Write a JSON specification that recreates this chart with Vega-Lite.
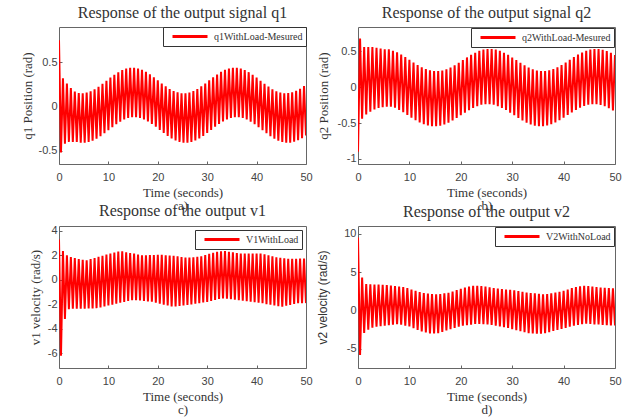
{
"$schema": "https://vega.github.io/schema/vega-lite/v6.json",
"padding": {"left": 20, "top": 4, "right": 0, "bottom": 0},
"background": "white",
"datasets": {"sig": [
{"t":0,"q1":0.75,"q2":-0.9,"v1":3.3,"v2":9.5},
{"t":0.4,"q1":-0.52,"q2":0.68,"v1":-6.2,"v2":-5.8},
{"t":0.8,"q1":0.32,"q2":-0.44,"v1":2.35,"v2":4.3},
{"t":1.2,"q1":-0.42,"q2":0.56,"v1":-3.2,"v2":-2.95},
{"t":1.6,"q1":0.26,"q2":-0.38,"v1":2.0,"v2":3.43},
{"t":2.0,"q1":-0.40,"q2":0.56,"v1":-2.4,"v2":-2.5},
{"t":2.4,"q1":0.21,"q2":-0.34,"v1":1.86,"v2":3.41},
{"t":2.8,"q1":-0.40,"q2":0.56,"v1":-2.35,"v2":-2.26},
{"t":3.2,"q1":0.17,"q2":-0.31,"v1":1.78,"v2":3.38},
{"t":3.6,"q1":-0.40,"q2":0.55,"v1":-2.35,"v2":-2.12},
{"t":4.0,"q1":0.152,"q2":-0.29,"v1":1.7,"v2":3.36},
{"t":4.4,"q1":-0.408,"q2":0.54,"v1":-2.35,"v2":-2.06},
{"t":4.8,"q1":0.151,"q2":-0.28,"v1":1.64,"v2":3.33},
{"t":5.2,"q1":-0.409,"q2":0.53,"v1":-2.35,"v2":-1.98},
{"t":5.6,"q1":0.158,"q2":-0.27,"v1":1.6,"v2":3.31},
{"t":6.0,"q1":-0.402,"q2":0.53,"v1":-2.34,"v2":-1.92},
{"t":6.4,"q1":0.173,"q2":-0.27,"v1":1.7,"v2":3.25},
{"t":6.8,"q1":-0.387,"q2":0.51,"v1":-2.33,"v2":-1.86},
{"t":7.2,"q1":0.196,"q2":-0.284,"v1":1.79,"v2":3.18},
{"t":7.6,"q1":-0.364,"q2":0.486,"v1":-2.31,"v2":-1.8},
{"t":8.0,"q1":0.224,"q2":-0.315,"v1":1.88,"v2":3.1},
{"t":8.4,"q1":-0.336,"q2":0.455,"v1":-2.26,"v2":-1.86},
{"t":8.8,"q1":0.257,"q2":-0.349,"v1":1.97,"v2":3.03},
{"t":9.2,"q1":-0.303,"q2":0.421,"v1":-2.18,"v2":-1.98},
{"t":9.6,"q1":0.292,"q2":-0.386,"v1":2.06,"v2":2.9},
{"t":10.0,"q1":-0.268,"q2":0.384,"v1":-2.1,"v2":-2.1},
{"t":10.4,"q1":0.327,"q2":-0.424,"v1":2.15,"v2":2.72},
{"t":10.8,"q1":-0.233,"q2":0.346,"v1":-2.02,"v2":-2.32},
{"t":11.2,"q1":0.36,"q2":-0.459,"v1":2.24,"v2":2.55},
{"t":11.6,"q1":-0.2,"q2":0.311,"v1":-1.94,"v2":-2.54},
{"t":12.0,"q1":0.389,"q2":-0.49,"v1":2.32,"v2":2.38},
{"t":12.4,"q1":-0.171,"q2":0.28,"v1":-1.87,"v2":-2.74},
{"t":12.8,"q1":0.413,"q2":-0.516,"v1":2.33,"v2":2.27},
{"t":13.2,"q1":-0.147,"q2":0.254,"v1":-1.8,"v2":-2.88},
{"t":13.6,"q1":0.43,"q2":-0.534,"v1":2.26,"v2":2.19},
{"t":14.0,"q1":-0.13,"q2":0.236,"v1":-1.73,"v2":-3.0},
{"t":14.4,"q1":0.439,"q2":-0.544,"v1":2.19,"v2":2.12},
{"t":14.8,"q1":-0.121,"q2":0.226,"v1":-1.67,"v2":-3.0},
{"t":15.2,"q1":0.439,"q2":-0.544,"v1":2.14,"v2":2.1},
{"t":15.6,"q1":-0.121,"q2":0.226,"v1":-1.66,"v2":-2.98},
{"t":16.0,"q1":0.431,"q2":-0.536,"v1":2.07,"v2":2.15},
{"t":16.4,"q1":-0.129,"q2":0.234,"v1":-1.68,"v2":-2.8},
{"t":16.8,"q1":0.415,"q2":-0.519,"v1":2.01,"v2":2.23},
{"t":17.2,"q1":-0.145,"q2":0.251,"v1":-1.72,"v2":-2.61},
{"t":17.6,"q1":0.392,"q2":-0.494,"v1":2.01,"v2":2.3},
{"t":18.0,"q1":-0.168,"q2":0.276,"v1":-1.76,"v2":-2.45},
{"t":18.4,"q1":0.364,"q2":-0.464,"v1":2.02,"v2":2.47},
{"t":18.8,"q1":-0.196,"q2":0.306,"v1":-1.79,"v2":-2.29},
{"t":19.2,"q1":0.331,"q2":-0.429,"v1":2.03,"v2":2.65},
{"t":19.6,"q1":-0.229,"q2":0.341,"v1":-1.86,"v2":-2.13},
{"t":20.0,"q1":0.296,"q2":-0.391,"v1":2.04,"v2":2.83},
{"t":20.4,"q1":-0.264,"q2":0.379,"v1":-1.94,"v2":-2.0},
{"t":20.8,"q1":0.261,"q2":-0.354,"v1":2.04,"v2":2.98},
{"t":21.2,"q1":-0.299,"q2":0.416,"v1":-2.02,"v2":-1.93},
{"t":21.6,"q1":0.228,"q2":-0.319,"v1":2.01,"v2":3.12},
{"t":22.0,"q1":-0.332,"q2":0.451,"v1":-2.1,"v2":-1.85},
{"t":22.4,"q1":0.199,"q2":-0.288,"v1":1.99,"v2":3.22},
{"t":22.8,"q1":-0.361,"q2":0.482,"v1":-2.18,"v2":-1.77},
{"t":23.2,"q1":0.176,"q2":-0.263,"v1":1.96,"v2":3.21},
{"t":23.6,"q1":-0.384,"q2":0.507,"v1":-2.17,"v2":-1.76},
{"t":24.0,"q1":0.16,"q2":-0.245,"v1":1.93,"v2":3.18},
{"t":24.4,"q1":-0.4,"q2":0.525,"v1":-2.14,"v2":-1.78},
{"t":24.8,"q1":0.151,"q2":-0.236,"v1":1.87,"v2":3.1},
{"t":25.2,"q1":-0.409,"q2":0.534,"v1":-2.1,"v2":-1.82},
{"t":25.6,"q1":0.151,"q2":-0.236,"v1":1.82,"v2":3.0},
{"t":26.0,"q1":-0.409,"q2":0.534,"v1":-2.05,"v2":-1.9},
{"t":26.4,"q1":0.159,"q2":-0.245,"v1":1.82,"v2":2.9},
{"t":26.8,"q1":-0.401,"q2":0.525,"v1":-2.0,"v2":-1.98},
{"t":27.2,"q1":0.176,"q2":-0.263,"v1":1.85,"v2":2.84},
{"t":27.6,"q1":-0.384,"q2":0.507,"v1":-1.95,"v2":-2.08},
{"t":28.0,"q1":0.199,"q2":-0.288,"v1":1.88,"v2":2.79},
{"t":28.4,"q1":-0.361,"q2":0.482,"v1":-1.9,"v2":-2.18},
{"t":28.8,"q1":0.228,"q2":-0.318,"v1":1.93,"v2":2.73},
{"t":29.2,"q1":-0.332,"q2":0.452,"v1":-1.85,"v2":-2.29},
{"t":29.6,"q1":0.261,"q2":-0.354,"v1":2.03,"v2":2.68},
{"t":30.0,"q1":-0.299,"q2":0.416,"v1":-1.8,"v2":-2.43},
{"t":30.4,"q1":0.296,"q2":-0.391,"v1":2.12,"v2":2.61},
{"t":30.8,"q1":-0.264,"q2":0.379,"v1":-1.72,"v2":-2.57},
{"t":31.2,"q1":0.331,"q2":-0.428,"v1":2.21,"v2":2.52},
{"t":31.6,"q1":-0.229,"q2":0.342,"v1":-1.64,"v2":-2.71},
{"t":32.0,"q1":0.363,"q2":-0.463,"v1":2.3,"v2":2.43},
{"t":32.4,"q1":-0.197,"q2":0.307,"v1":-1.56,"v2":-2.85},
{"t":32.8,"q1":0.392,"q2":-0.494,"v1":2.33,"v2":2.34},
{"t":33.2,"q1":-0.168,"q2":0.276,"v1":-1.51,"v2":-2.96},
{"t":33.6,"q1":0.415,"q2":-0.518,"v1":2.35,"v2":2.27},
{"t":34.0,"q1":-0.145,"q2":0.252,"v1":-1.54,"v2":-3.0},
{"t":34.4,"q1":0.431,"q2":-0.536,"v1":2.3,"v2":2.22},
{"t":34.8,"q1":-0.129,"q2":0.234,"v1":-1.58,"v2":-3.03},
{"t":35.2,"q1":0.439,"q2":-0.544,"v1":2.25,"v2":2.16},
{"t":35.6,"q1":-0.121,"q2":0.226,"v1":-1.63,"v2":-3.03},
{"t":36.0,"q1":0.439,"q2":-0.544,"v1":2.2,"v2":2.11},
{"t":36.4,"q1":-0.121,"q2":0.226,"v1":-1.67,"v2":-2.97},
{"t":36.8,"q1":0.43,"q2":-0.534,"v1":2.16,"v2":2.14},
{"t":37.2,"q1":-0.13,"q2":0.236,"v1":-1.71,"v2":-2.83},
{"t":37.6,"q1":0.413,"q2":-0.516,"v1":2.15,"v2":2.24},
{"t":38.0,"q1":-0.147,"q2":0.254,"v1":-1.75,"v2":-2.68},
{"t":38.4,"q1":0.389,"q2":-0.491,"v1":2.15,"v2":2.34},
{"t":38.8,"q1":-0.171,"q2":0.279,"v1":-1.79,"v2":-2.54},
{"t":39.2,"q1":0.36,"q2":-0.46,"v1":2.15,"v2":2.44},
{"t":39.6,"q1":-0.2,"q2":0.31,"v1":-1.83,"v2":-2.4},
{"t":40.0,"q1":0.327,"q2":-0.424,"v1":2.15,"v2":2.56},
{"t":40.4,"q1":-0.233,"q2":0.346,"v1":-1.87,"v2":-2.27},
{"t":40.8,"q1":0.292,"q2":-0.387,"v1":2.15,"v2":2.73},
{"t":41.2,"q1":-0.268,"q2":0.383,"v1":-1.91,"v2":-2.13},
{"t":41.6,"q1":0.257,"q2":-0.35,"v1":2.09,"v2":2.9},
{"t":42.0,"q1":-0.303,"q2":0.42,"v1":-1.98,"v2":-2.0},
{"t":42.4,"q1":0.225,"q2":-0.315,"v1":2.01,"v2":3.06},
{"t":42.8,"q1":-0.335,"q2":0.455,"v1":-2.04,"v2":-1.88},
{"t":43.2,"q1":0.196,"q2":-0.285,"v1":1.93,"v2":3.14},
{"t":43.6,"q1":-0.364,"q2":0.485,"v1":-2.1,"v2":-1.8},
{"t":44.0,"q1":0.174,"q2":-0.26,"v1":1.85,"v2":3.21},
{"t":44.4,"q1":-0.386,"q2":0.51,"v1":-2.16,"v2":-1.74},
{"t":44.8,"q1":0.158,"q2":-0.244,"v1":1.81,"v2":3.17},
{"t":45.2,"q1":-0.402,"q2":0.526,"v1":-2.19,"v2":-1.77},
{"t":45.6,"q1":0.151,"q2":-0.236,"v1":1.77,"v2":3.1},
{"t":46.0,"q1":-0.409,"q2":0.534,"v1":-2.12,"v2":-1.81},
{"t":46.4,"q1":0.152,"q2":-0.237,"v1":1.72,"v2":3.03},
{"t":46.8,"q1":-0.408,"q2":0.533,"v1":-2.04,"v2":-1.84},
{"t":47.2,"q1":0.161,"q2":-0.247,"v1":1.72,"v2":2.98},
{"t":47.6,"q1":-0.399,"q2":0.523,"v1":-1.97,"v2":-1.88},
{"t":48.0,"q1":0.178,"q2":-0.265,"v1":1.73,"v2":2.94},
{"t":48.4,"q1":-0.382,"q2":0.505,"v1":-1.9,"v2":-1.91},
{"t":48.8,"q1":0.202,"q2":-0.291,"v1":1.74,"v2":2.9},
{"t":49.2,"q1":-0.358,"q2":0.479,"v1":-1.9,"v2":-1.94},
{"t":49.6,"q1":0.232,"q2":-0.322,"v1":1.75,"v2":2.87},
{"t":50.0,"q1":-0.328,"q2":0.448,"v1":-1.9,"v2":-1.96}
]},
"config": {
  "view": {"stroke": "#666", "strokeWidth": 1},
  "axis": {"grid": false, "domain": false, "labelFont": "Liberation Sans", "labelFontSize": 11, "labelColor": "#444",
           "labelOverlap": false, "labelFlush": false,
           "titleFont": "Liberation Serif", "titleFontSize": 13, "titleFontWeight": "normal", "titleColor": "#333",
           "tickColor": "#666", "tickSize": -3, "labelPadding": 5, "titlePadding": 4},
  "axisX": {"labelPadding": 10, "titlePadding": 4, "titleLineHeight": 13},
  "title": {"font": "Liberation Serif", "fontSize": 16, "fontWeight": "normal", "color": "#333", "offset": 6},
  "legend": {"orient": "top-right", "offset": 0, "title": null, "strokeColor": "#333", "fillColor": "white", "padding": 3,
             "labelFont": "Liberation Serif", "labelFontSize": 10, "labelColor": "#333",
             "symbolType": "M0,0H7", "symbolSize": 100, "symbolStrokeWidth": 3, "labelOffset": 35, "rowPadding": 0}
},
"resolve": {"scale": {"color": "independent"}, "legend": {"color": "independent"}},
"bounds": "flush",
"spacing": {"row": 62, "column": 52},
"columns": 2,
"concat": [
   {"title": "Response of the output signal q1",
    "width": 247, "height": 137,
    "data": {"name": "sig"},
    "mark": {"type": "line", "color": "#ff0000", "strokeWidth": 2, "clip": true},
    "encoding": {
     "x": {"field": "t", "type": "quantitative", "scale": {"domain": [0, 50], "nice": false}, "axis": {"values": [0, 10, 20, 30, 40, 50], "title": ["Time (seconds)", "a)"], "titleFont": "Liberation Serif", "titleFontWeight": "normal", "labelOverlap": false, "labelExpr": "'' + datum.value"}},
     "y": {"field": "q1", "type": "quantitative", "scale": {"domain": [-0.65, 0.9], "nice": false, "zero": false}, "axis": {"values": [-0.5, 0, 0.5], "title": "q1 Position (rad)", "titleFont": "Liberation Serif", "titleFontWeight": "normal", "titlePadding": 4, "labelOverlap": false, "labelExpr": "'' + datum.value"}},
     "color": {"datum": "q1WithLoad-Mesured", "scale": {"range": ["#ff0000"]}}
    }},
   {"title": "Response of the output signal q2",
    "width": 257, "height": 137,
    "data": {"name": "sig"},
    "mark": {"type": "line", "color": "#ff0000", "strokeWidth": 2, "clip": true},
    "encoding": {
     "x": {"field": "t", "type": "quantitative", "scale": {"domain": [0, 50], "nice": false}, "axis": {"values": [0, 10, 20, 30, 40, 50], "title": ["Time (seconds)", "b)"], "titleFont": "Liberation Serif", "titleFontWeight": "normal", "labelOverlap": false, "labelExpr": "'' + datum.value"}},
     "y": {"field": "q2", "type": "quantitative", "scale": {"domain": [-1.07, 0.84], "nice": false, "zero": false}, "axis": {"values": [-1, -0.5, 0, 0.5], "title": "q2 Position (rad)", "titleFont": "Liberation Serif", "titleFontWeight": "normal", "titlePadding": 7, "labelOverlap": false, "labelExpr": "'' + datum.value"}},
     "color": {"datum": "q2WithLoad-Mesured", "scale": {"range": ["#ff0000"]}, "legend": {"offset": 1}}
    }},
   {"title": "Response of the output v1",
    "width": 247, "height": 142,
    "data": {"name": "sig"},
    "mark": {"type": "line", "color": "#ff0000", "strokeWidth": 2, "clip": true},
    "encoding": {
     "x": {"field": "t", "type": "quantitative", "scale": {"domain": [0, 50], "nice": false}, "axis": {"values": [0, 10, 20, 30, 40, 50], "title": ["Time (seconds)", "c)"], "titleFont": "Liberation Serif", "titleFontWeight": "normal", "labelOverlap": false, "labelExpr": "'' + datum.value"}},
     "y": {"field": "v1", "type": "quantitative", "scale": {"domain": [-7.2, 4.4], "nice": false, "zero": false}, "axis": {"values": [-6, -4, -2, 0, 2, 4], "title": "v1 velocity (rad/s)", "titleFont": "Liberation Serif", "titleFontWeight": "normal", "titlePadding": 5, "labelOverlap": false, "labelExpr": "'' + datum.value"}},
     "color": {"datum": "V1WithLoad", "scale": {"range": ["#ff0000"]}, "legend": {"offset": 4}}
    }},
   {"title": "Response of the output v2",
    "width": 257, "height": 142,
    "data": {"name": "sig"},
    "mark": {"type": "line", "color": "#ff0000", "strokeWidth": 2, "clip": true},
    "encoding": {
     "x": {"field": "t", "type": "quantitative", "scale": {"domain": [0, 50], "nice": false}, "axis": {"values": [0, 10, 20, 30, 40, 50], "title": ["Time (seconds)", "d)"], "titleFont": "Liberation Serif", "titleFontWeight": "normal", "labelOverlap": false, "labelExpr": "'' + datum.value"}},
     "y": {"field": "v2", "type": "quantitative", "scale": {"domain": [-7.5, 11], "nice": false, "zero": false}, "axis": {"values": [-5, 0, 5, 10], "title": "v2 velocity (rad/s)", "titleFont": "Liberation Sans", "titleFontWeight": "normal", "titleFontSize": 12, "titlePadding": 14, "labelOverlap": false, "labelExpr": "'' + datum.value"}},
     "color": {"datum": "V2WithNoLoad", "scale": {"range": ["#ff0000"]}, "legend": {"offset": 1}}
    }}
]
}
